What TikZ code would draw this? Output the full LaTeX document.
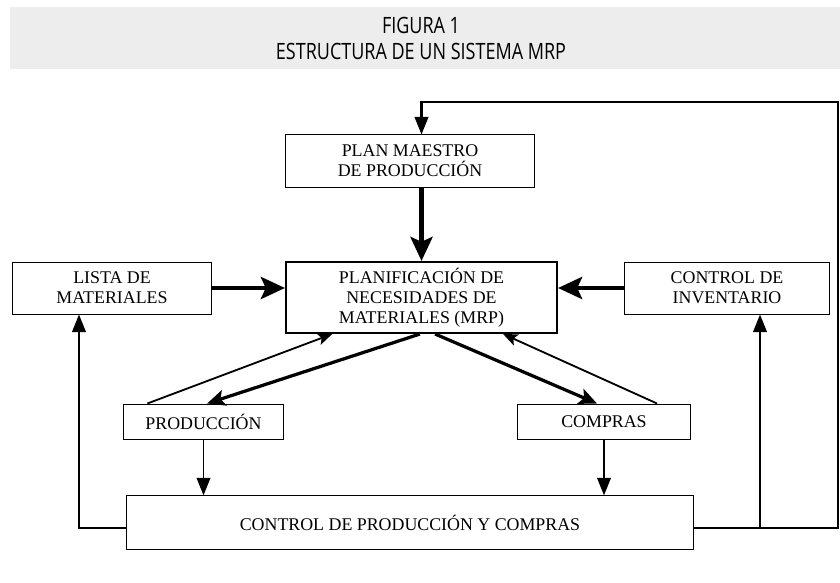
\documentclass[tikz,border=0pt]{standalone}
\usepackage{fontspec}
\setmainfont{Liberation Serif}
\newfontfamily\headfont[FakeStretch=0.8]{Open Sans}
\usepackage{tikz}
\usetikzlibrary{arrows.meta,positioning,calc}
\definecolor{headergray}{RGB}{237,237,237}

\begin{document}
\begin{tikzpicture}[
    x=0.025cm, y=-0.025cm,
    box/.style={draw, line width=0.7pt, align=center, inner sep=0pt, font=\fontsize{12.7}{14.2}\selectfont},
    mainbox/.style={box, line width=1.3pt},
    heavy/.style={line width=3.2pt, -{Stealth[length=6mm, width=5.5mm, inset=1.2mm]}},
    heavydiag/.style={line width=2.3pt, -{Stealth[length=4.5mm, width=4mm, inset=1mm]}},
    slim/.style={line width=1.3pt, -{Stealth[length=3.6mm, width=3mm, inset=0.8mm]}},
    slimdown/.style={line width=1.4pt, -{Triangle[length=4.4mm, width=3.4mm]}},
    feedback/.style={line width=1.6pt},
    feedbackarrow/.style={feedback, -{Triangle[length=4.4mm, width=3.4mm]}}
]
\useasboundingbox (0,0) rectangle (840,583);

% Header band
\fill[headergray] (10,7) rectangle (840,69);
\node[font=\headfont\fontsize{16}{18.5}\selectfont, align=center] (title) at (421,38) {FIGURA 1\\ESTRUCTURA DE UN SISTEMA MRP};

% Boxes
\node[box, minimum width=6.2cm, minimum height=1.3cm] (plan) at (410,161) {PLAN MAESTRO\\DE PRODUCCIÓN};
\node[mainbox, minimum width=6.78cm, minimum height=1.78cm] (mrp) at (421.5,297.5) {PLANIFICACIÓN DE\\NECESIDADES DE\\MATERIALES (MRP)};
\node[box, minimum width=4.95cm, minimum height=1.3cm] (lista) at (112,288) {LISTA DE\\MATERIALES};
\node[box, minimum width=5.1cm, minimum height=1.3cm] (inv) at (727,288) {CONTROL DE\\INVENTARIO};
\node[box, minimum width=3.98cm, minimum height=0.875cm] (prod) at (203.5,421.5) {PRODUCCIÓN};
\node[box, minimum width=4.3cm, minimum height=0.875cm] (compras) at (604,421.5) {COMPRAS};
\node[box, minimum width=14.15cm, minimum height=1.33cm] (ctrl) at (410,522.5) {CONTROL DE PRODUCCIÓN Y COMPRAS};

% Inputs to MRP
\draw[heavy] (plan.south -| mrp.north) -- (mrp.north);
\draw[heavy] (lista.east) -- (lista.east -| mrp.west);
\draw[heavy] (inv.west) -- (inv.west -| mrp.east);

% MRP to production and purchases, and back
\draw[heavydiag] ([xshift=-0.04cm]mrp.south) -- ([xshift=0.09cm]prod.north);
\draw[slim] ([xshift=0.6cm]prod.north west) -- ([xshift=1.18cm]mrp.south west);
\draw[heavydiag] ([xshift=0.34cm]mrp.south) -- ([xshift=-0.175cm]compras.north);
\draw[slim] ([xshift=1.325cm]compras.north) -- ([xshift=2.04cm]mrp.south);

% Down to control
\draw[slimdown] (prod.south) -- (prod.south |- ctrl.north);
\draw[slimdown] (compras.south) -- (compras.south |- ctrl.north);

% Feedback loops
\coordinate (ctrlleft) at ([yshift=-0.14cm]ctrl.west);
\coordinate (ctrlright) at ([yshift=-0.14cm]ctrl.east);
\coordinate (listain) at ([xshift=-0.825cm]lista.south);
\coordinate (invin) at ([xshift=0.825cm]inv.south);
\coordinate (rightedge) at (838,102);
\draw[feedbackarrow] (ctrlleft) -| (listain);
\draw[feedbackarrow] (ctrlright) -| (invin);
\draw[feedbackarrow] (ctrlright) -| (rightedge) -| (mrp.north |- plan.north);
\end{tikzpicture}
\end{document}
